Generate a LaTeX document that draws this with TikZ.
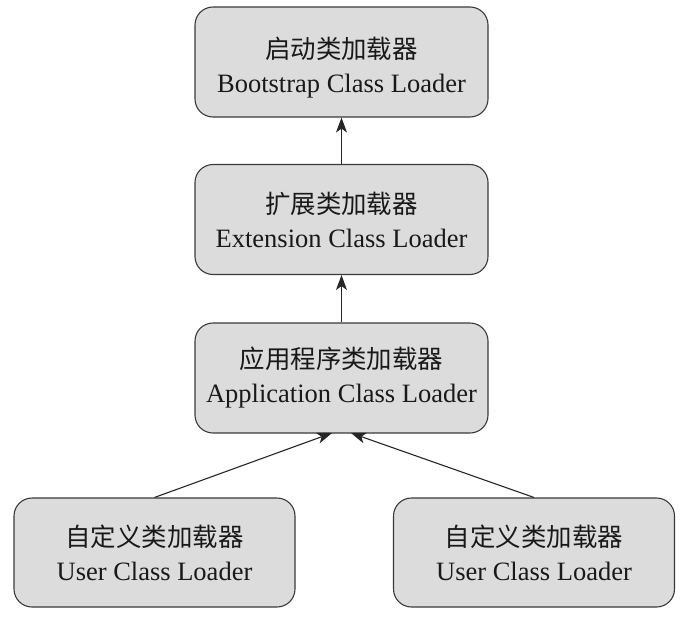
\documentclass[tikz,border=0pt]{standalone}
\usepackage{fontspec}
\setmainfont{Liberation Serif}
\newfontfamily\cjk{Noto Sans CJK SC}[Scale=0.96]
\usetikzlibrary{arrows.meta}
\definecolor{boxfill}{HTML}{DCDCDC}
\definecolor{boxline}{HTML}{3A3A3A}
\begin{document}
\begin{tikzpicture}[x=1pt,y=-1pt,
  box/.style={draw=boxline, line width=1.1pt, fill=boxfill, rounded corners=18pt,
    inner sep=0pt, align=center, text=black!90,
    font=\fontsize{26.5}{34}\selectfont},
  wide/.style={box, minimum width=293pt, minimum height=110pt},
  user/.style={box, minimum width=281pt, minimum height=109pt},
  arr/.style={draw=black!85, line width=1.1pt, -{Stealth[length=15pt,width=11pt,inset=4pt]}}]
\useasboundingbox (0,0) rectangle (693,627);
\node[wide] (boot) at (341.5,62) {{\cjk\rule{0pt}{32pt}启动类加载器}\\Bootstrap Class Loader};
\node[wide] (ext) at (341.5,219.5) {{\cjk 扩展类加载器}\\Extension Class Loader};
\node[wide] (app) at (341.5,378) {{\cjk 应用程序类加载器}\\Application Class Loader};
\node[user] (u1) at (154.5,552.5) {{\cjk 自定义类加载器}\\User Class Loader};
\node[user] (u2) at (534,552.5) {{\cjk 自定义类加载器}\\User Class Loader};
\coordinate (tl) at (332,433);
\coordinate (tr) at (351,433);
\draw[arr] (ext.north) -- (boot.south);
\draw[arr] (app.north) -- (ext.south);
\draw[arr] (u1.north) -- (tl);
\draw[arr] (u2.north) -- (tr);
\end{tikzpicture}
\end{document}
